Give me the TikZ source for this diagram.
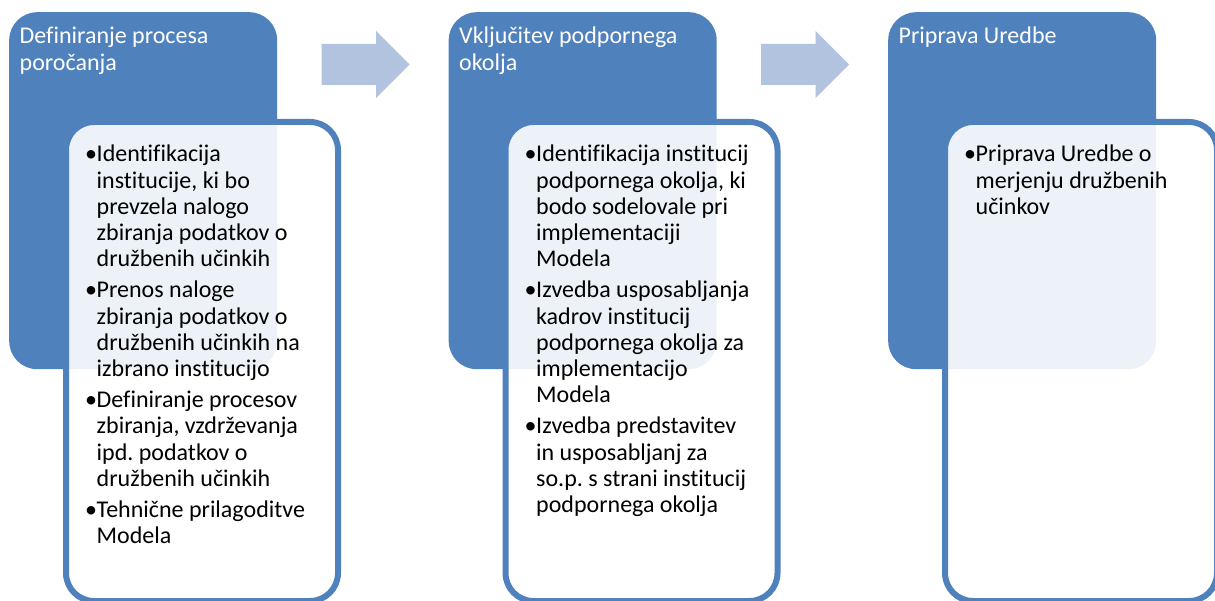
\documentclass[tikz,border=0pt]{standalone}
\usepackage{fontspec}
\setmainfont{Carlito}[Ligatures=NoCommon]
\frenchspacing
\definecolor{accblue}{RGB}{79,129,189}
\definecolor{arrblue}{RGB}{178,195,223}
\newcommand{\bl}{\makebox[11.5pt][l]{•}}
\newcommand{\ii}{\hspace*{11.5pt}}
\tikzset{
  stepbox/.style={fill=accblue, draw=none, rounded corners=28pt, anchor=north west,
    minimum width=268pt, minimum height=357pt, inner sep=0pt},
  detailbox/.style={draw=accblue, line width=6pt, fill=white, fill opacity=0.9,
    rounded corners=28pt, anchor=north west, minimum width=272pt, minimum height=479pt, inner sep=0pt},
  titletext/.style={anchor=base west, inner sep=0pt, text=white,
    font=\fontsize{24}{26.5}\selectfont\frenchspacing},
  bodytext/.style={anchor=base west, inner sep=0pt, text=black,
    font=\fontsize{24}{26.1}\selectfont\frenchspacing},
  flowarrow/.style={fill=arrblue, draw=none},
}
\begin{document}
\begin{tikzpicture}[x=1pt,y=-1pt]
\useasboundingbox (0,0) rectangle (1215,601);
\foreach \i/\dx in {1/0,2/439.5,3/879}{
  \node[stepbox] (s\i) at (9+\dx,12) {};
  \node[detailbox] (d\i) at (63+\dx,119) {};
}
\foreach \i/\dx in {1/0,2/439.5}{
  \fill[flowarrow] (321.5+\dx,44) -- (376+\dx,44) -- (376+\dx,31) -- (409.5+\dx,64.5)
    -- (376+\dx,98) -- (376+\dx,85) -- (321.5+\dx,85) -- cycle;
}
\node[titletext] (t1) at (19.5,44) {\begin{tabular}[t]{@{}l@{}}Definiranje procesa\\poročanja\end{tabular}};
\node[titletext] (t2) at (459,44) {\begin{tabular}[t]{@{}l@{}}Vključitev podpornega\\okolja\end{tabular}};
\node[titletext] (t3) at (898.5,44) {\begin{tabular}[t]{@{}l@{}}Priprava Uredbe\end{tabular}};
\node[bodytext] (b1) at (85,162) {\begin{tabular}[t]{@{}l@{}}
\bl Identifikacija\\
\ii institucije, ki bo\\
\ii prevzela nalogo\\
\ii zbiranja podatkov o\\
\ii družbenih učinkih\\[5.5pt]
\bl Prenos naloge\\
\ii zbiranja podatkov o\\
\ii družbenih učinkih na\\
\ii izbrano institucijo\\[5.5pt]
\bl Definiranje procesov\\
\ii zbiranja, vzdrževanja\\
\ii ipd. podatkov o\\
\ii družbenih učinkih\\[5.5pt]
\bl Tehnične prilagoditve\\
\ii Modela
\end{tabular}};
\node[bodytext] (b2) at (524.5,162) {\begin{tabular}[t]{@{}l@{}}
\bl Identifikacija institucij\\
\ii podpornega okolja, ki\\
\ii bodo sodelovale pri\\
\ii implementaciji\\
\ii Modela\\[5.5pt]
\bl Izvedba usposabljanja\\
\ii kadrov institucij\\
\ii podpornega okolja za\\
\ii implementacijo\\
\ii Modela\\[5.5pt]
\bl Izvedba predstavitev\\
\ii in usposabljanj za\\
\ii so.p. s strani institucij\\
\ii podpornega okolja
\end{tabular}};
\node[bodytext] (b3) at (964,162) {\begin{tabular}[t]{@{}l@{}}
\bl Priprava Uredbe o\\
\ii merjenju družbenih\\
\ii učinkov
\end{tabular}};
\end{tikzpicture}
\end{document}
